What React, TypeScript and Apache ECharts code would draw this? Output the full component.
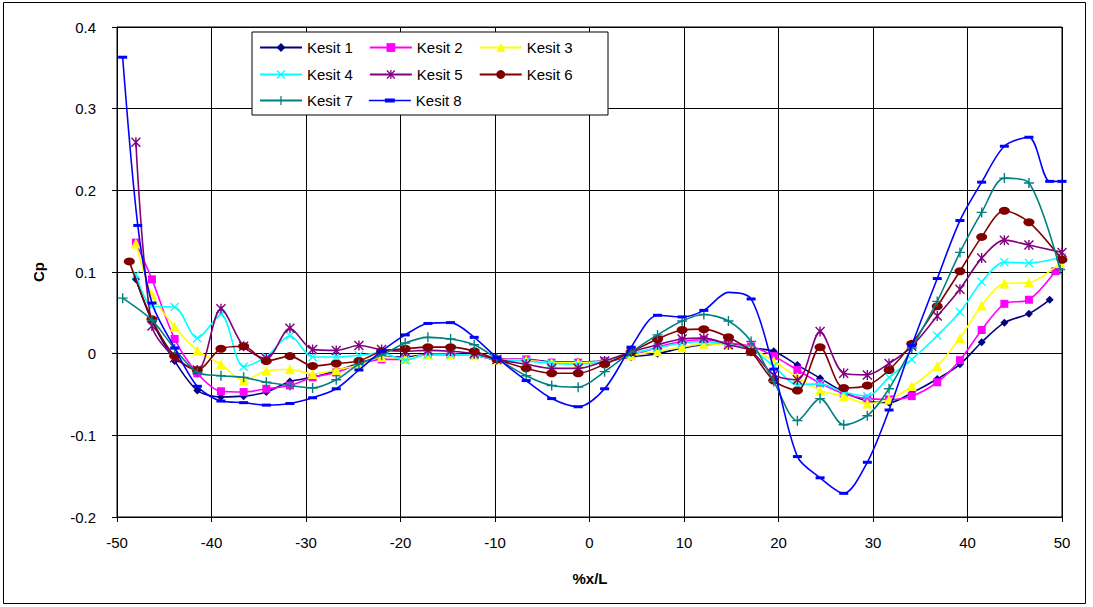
import React, { useEffect, useRef } from 'react';
import * as echarts from 'echarts';

const SERIES_NAMES = ['Kesit 1', 'Kesit 2', 'Kesit 3', 'Kesit 4', 'Kesit 5', 'Kesit 6', 'Kesit 7', 'Kesit 8'];
const SERIES_COLORS = ['#000080', '#FF00FF', '#FFFF00', '#00FFFF', '#800080', '#800000', '#008080', '#0000FF'];

const X_TICKS_MIN = -50;
const X_TICKS_MAX = 50;
const Y_TICKS_MIN = -0.2;
const Y_TICKS_MAX = 0.4;

const KESIT_1: [number, number][] = [
  [-48.0, 0.091], [-46.3, 0.040], [-43.9, -0.009], [-41.5, -0.045], [-39.0, -0.053], [-36.6, -0.052],
  [-34.2, -0.047], [-31.7, -0.034], [-29.3, -0.029], [-26.8, -0.021], [-24.4, -0.012], [-22.0, -0.004],
  [-19.5, -0.004], [-17.1, -0.001], [-14.7, -0.001], [-12.2, -0.002], [-9.8, -0.007], [-6.7, -0.007],
  [-4.0, -0.010], [-1.2, -0.010], [1.6, -0.009], [4.4, -0.004], [7.2, 0.000], [9.8, 0.007], [12.1, 0.011],
  [14.7, 0.012], [17.1, 0.007], [19.5, 0.003], [22.0, -0.014], [24.4, -0.030], [26.9, -0.047], [29.4, -0.058],
  [31.7, -0.060], [34.1, -0.048], [36.8, -0.031], [39.2, -0.013], [41.5, 0.014], [43.9, 0.038], [46.5, 0.049],
  [48.7, 0.066],
];
const KESIT_2: [number, number][] = [
  [-48.0, 0.136], [-46.3, 0.091], [-43.9, 0.018], [-41.5, -0.024], [-39.0, -0.046], [-36.6, -0.047],
  [-34.2, -0.043], [-31.7, -0.039], [-29.3, -0.029], [-26.8, -0.023], [-24.4, -0.013], [-22.0, -0.007],
  [-19.5, -0.007], [-17.1, -0.001], [-14.7, -0.001], [-12.2, -0.002], [-9.8, -0.007], [-6.7, -0.007],
  [-4.0, -0.011], [-1.2, -0.011], [1.6, -0.009], [4.4, -0.003], [7.2, 0.008], [9.8, 0.015], [12.1, 0.017],
  [14.7, 0.013], [17.1, 0.009], [19.5, -0.003], [22.0, -0.020], [24.4, -0.036], [26.9, -0.049], [29.4, -0.055],
  [31.7, -0.056], [34.1, -0.052], [36.8, -0.035], [39.2, -0.008], [41.5, 0.029], [43.9, 0.061], [46.5, 0.066],
  [49.3, 0.101],
];
const KESIT_3: [number, number][] = [
  [-48.0, 0.135], [-46.3, 0.072], [-43.9, 0.033], [-41.5, 0.004], [-39.0, -0.013], [-36.6, -0.033],
  [-34.2, -0.021], [-31.7, -0.019], [-29.3, -0.025], [-26.8, -0.020], [-24.4, -0.014], [-22.0, -0.004],
  [-19.5, -0.006], [-17.1, -0.001], [-14.7, -0.001], [-12.2, -0.002], [-9.8, -0.007], [-6.7, -0.008],
  [-4.0, -0.011], [-1.2, -0.011], [1.6, -0.009], [4.4, -0.002], [7.2, 0.003], [9.8, 0.008], [12.1, 0.012],
  [14.7, 0.011], [17.1, 0.006], [19.5, -0.009], [22.0, -0.029], [24.4, -0.045], [26.9, -0.052], [29.4, -0.061],
  [31.7, -0.056], [34.1, -0.040], [36.8, -0.015], [39.2, 0.019], [41.5, 0.059], [43.9, 0.086], [46.5, 0.087],
  [49.8, 0.111],
];
const KESIT_4: [number, number][] = [
  [-48.0, 0.097], [-46.3, 0.058], [-43.9, 0.057], [-41.5, 0.019], [-39.0, 0.048], [-36.6, -0.016],
  [-34.2, -0.004], [-31.7, 0.022], [-29.3, -0.004], [-26.8, -0.004], [-24.4, -0.002], [-22.0, 0.001],
  [-19.5, -0.008], [-17.1, -0.001], [-14.7, -0.001], [-12.2, -0.002], [-9.8, -0.007], [-6.7, -0.009],
  [-4.0, -0.012], [-1.2, -0.013], [1.6, -0.009], [4.4, 0.000], [7.2, 0.007], [9.8, 0.013], [12.1, 0.015],
  [14.7, 0.011], [17.1, 0.005], [19.5, -0.015], [22.0, -0.038], [24.4, -0.037], [26.9, -0.047], [29.4, -0.052],
  [31.7, -0.029], [34.1, -0.007], [36.8, 0.022], [39.2, 0.051], [41.5, 0.088], [43.9, 0.112], [46.5, 0.111],
  [50.0, 0.118],
];
const KESIT_5: [number, number][] = [
  [-48.0, 0.259], [-46.3, 0.034], [-43.9, -0.005], [-41.5, -0.020], [-39.0, 0.055], [-36.6, 0.009],
  [-34.2, -0.006], [-31.7, 0.031], [-29.3, 0.005], [-26.8, 0.004], [-24.4, 0.010], [-22.0, 0.005],
  [-19.5, 0.003], [-17.1, 0.004], [-14.7, 0.003], [-12.2, 0.000], [-9.8, -0.007], [-6.7, -0.013],
  [-4.0, -0.018], [-1.2, -0.018], [1.6, -0.009], [4.4, 0.002], [7.2, 0.011], [9.8, 0.018], [12.1, 0.019],
  [14.7, 0.011], [17.1, 0.003], [19.5, -0.026], [22.0, -0.032], [24.4, 0.027], [26.9, -0.024], [29.4, -0.026],
  [31.7, -0.012], [34.1, 0.009], [36.8, 0.046], [39.2, 0.079], [41.5, 0.117], [43.9, 0.139], [46.5, 0.133],
  [50.0, 0.124],
];
const KESIT_6: [number, number][] = [
  [-48.7, 0.113], [-46.3, 0.042], [-43.9, -0.003], [-41.5, -0.020], [-39.0, 0.006], [-36.6, 0.009],
  [-34.2, -0.009], [-31.7, -0.003], [-29.3, -0.015], [-26.8, -0.012], [-24.4, -0.009], [-22.0, 0.003],
  [-19.5, 0.006], [-17.1, 0.008], [-14.7, 0.008], [-12.2, 0.003], [-9.8, -0.007], [-6.7, -0.018],
  [-4.0, -0.024], [-1.2, -0.024], [1.6, -0.013], [4.4, 0.002], [7.2, 0.018], [9.8, 0.029], [12.1, 0.030],
  [14.7, 0.020], [17.1, 0.002], [19.5, -0.033], [22.0, -0.045], [24.4, 0.008], [26.9, -0.042], [29.4, -0.039],
  [31.7, -0.020], [34.1, 0.012], [36.8, 0.058], [39.2, 0.101], [41.5, 0.143], [43.9, 0.175], [46.5, 0.161],
  [50.0, 0.115],
];
const KESIT_7: [number, number][] = [
  [-49.4, 0.068], [-46.3, 0.041], [-43.9, 0.006], [-41.5, -0.023], [-39.0, -0.027], [-36.6, -0.029],
  [-34.2, -0.035], [-31.7, -0.039], [-29.3, -0.042], [-26.8, -0.032], [-24.4, -0.013], [-22.0, -0.002],
  [-19.5, 0.013], [-17.1, 0.020], [-14.7, 0.018], [-12.2, 0.011], [-9.8, -0.006], [-6.7, -0.027],
  [-4.0, -0.039], [-1.2, -0.041], [1.6, -0.022], [4.4, 0.002], [7.2, 0.023], [9.8, 0.040], [12.1, 0.048],
  [14.7, 0.040], [17.1, 0.015], [19.5, -0.034], [22.0, -0.082], [24.4, -0.055], [26.9, -0.087], [29.4, -0.076],
  [31.7, -0.043], [34.1, 0.007], [36.8, 0.064], [39.2, 0.124], [41.5, 0.173], [43.9, 0.215], [46.5, 0.209],
  [49.8, 0.103],
];
const KESIT_8: [number, number][] = [
  [-49.4, 0.363], [-47.8, 0.157], [-46.3, 0.062], [-43.9, 0.007], [-41.5, -0.040], [-39.0, -0.058],
  [-36.6, -0.060], [-34.2, -0.063], [-31.7, -0.061], [-29.3, -0.054], [-26.8, -0.043], [-24.4, -0.020],
  [-22.0, 0.003], [-19.5, 0.023], [-17.1, 0.037], [-14.7, 0.038], [-12.2, 0.020], [-9.8, -0.005],
  [-6.7, -0.033], [-4.0, -0.055], [-1.2, -0.065], [1.6, -0.043], [4.4, 0.008], [7.2, 0.047], [9.8, 0.045],
  [12.1, 0.053], [14.7, 0.075], [17.1, 0.067], [19.5, -0.019], [22.0, -0.126], [24.4, -0.152], [26.9, -0.171],
  [29.4, -0.133], [31.7, -0.069], [34.1, 0.010], [36.8, 0.092], [39.2, 0.163], [41.5, 0.210], [43.9, 0.254],
  [46.5, 0.265], [48.7, 0.211], [50.0, 0.211],
];
// positions along Kesit 8 where the original shows no marker
const KESIT_8_UNMARKED = [14.7];

const SERIES_DATA = [KESIT_1, KESIT_2, KESIT_3, KESIT_4, KESIT_5, KESIT_6, KESIT_7, KESIT_8];

const X_PATH = 'path://M0,1 L1,0 L5,4 L9,0 L10,1 L6,5 L10,9 L9,10 L5,6 L1,10 L0,9 L4,5 Z';
const STAR_PATH = 'path://M0,1 L1,0 L5,4 L9,0 L10,1 L6,5 L10,9 L9,10 L5,6 L1,10 L0,9 L4,5 Z M4.3,0 L5.7,0 L5.7,10 L4.3,10 Z';
const PLUS_PATH = 'path://M4.3,0 L5.7,0 L5.7,4.3 L10,4.3 L10,5.7 L5.7,5.7 L5.7,10 L4.3,10 L4.3,5.7 L0,5.7 L0,4.3 L4.3,4.3 Z';
const DASH_LEGEND_PATH = 'path://M0,0 L0.01,0 Z M42,11 L41.99,11 Z M0,4.8 L42,4.8 L42,6.2 L0,6.2 Z M16,3.5 L26,3.5 L26,7.5 L16,7.5 Z';

const SYMBOLS: any[] = ['diamond', 'rect', 'triangle', X_PATH, STAR_PATH, 'circle', PLUS_PATH, 'rect'];
const SYMBOL_SIZES: any[] = [8, 8, 10, 9, 10, [11, 8], 10, [9, 3]];

const FONT = 'Arial, "Liberation Sans", sans-serif';

export default function App() {
  const ref = useRef<HTMLDivElement>(null);

  useEffect(() => {
    if (!ref.current) return;
    const chart = echarts.init(ref.current, null, { renderer: 'svg' });

    const series = SERIES_NAMES.map((name, i) => ({
      name,
      type: 'line',
      data: SERIES_DATA[i].map((p) =>
        i === 7 && KESIT_8_UNMARKED.includes(p[0]) ? { value: p, symbol: 'none' } : p
      ),
      smooth: 0.3,
      symbol: SYMBOLS[i],
      symbolSize: SYMBOL_SIZES[i],
      showSymbol: true,
      clip: true,
      lineStyle: { color: SERIES_COLORS[i], width: 1.6 },
      itemStyle: { color: SERIES_COLORS[i], borderWidth: 0 },
      emphasis: { disabled: true },
      z: 3 + i,
    }));

    const legendRows = [
      SERIES_NAMES.slice(0, 3),
      SERIES_NAMES.slice(3, 6),
      SERIES_NAMES.slice(6, 8),
    ];
    const legendTops = [40, 67, 93];

    const legends = legendRows.map((row, r) => ({
      data: row.map((n) => (n === 'Kesit 8' ? { name: n, icon: DASH_LEGEND_PATH } : { name: n })),
      left: 259,
      top: legendTops[r],
      orient: 'horizontal',
      padding: 0,
      itemWidth: 42,
      itemHeight: 11,
      itemGap: 16,
      selectedMode: false,
      z: 20,
      textStyle: { fontFamily: FONT, fontSize: 15, color: '#000', width: 58 },
    }));

    chart.setOption({
      animation: false,
      backgroundColor: '#fff',
      grid: { left: 117, top: 27, width: 945, height: 490, show: true, borderColor: '#000', borderWidth: 1, backgroundColor: '#fff' },
      xAxis: {
        type: 'value',
        min: X_TICKS_MIN,
        max: X_TICKS_MAX,
        interval: 10,
        axisLine: { show: true, onZero: false, lineStyle: { color: '#000', width: 1 } },
        axisTick: { show: true, inside: false, length: 5, lineStyle: { color: '#000' } },
        splitLine: { show: true, lineStyle: { color: '#000', width: 1 } },
        axisLabel: { fontFamily: FONT, fontSize: 15, color: '#000', margin: 18 },
      },
      yAxis: {
        type: 'value',
        min: Y_TICKS_MIN,
        max: Y_TICKS_MAX,
        interval: 0.1,
        axisLine: { show: true, onZero: false, lineStyle: { color: '#000', width: 1 } },
        axisTick: { show: true, inside: false, length: 5, lineStyle: { color: '#000' } },
        splitLine: { show: true, lineStyle: { color: '#000', width: 1 } },
        axisLabel: {
          fontFamily: FONT,
          fontSize: 15,
          color: '#000',
          margin: 21,
          formatter: (v: number) => (Math.abs(v) < 1e-9 ? '0' : v.toFixed(1)),
        },
      },
      legend: legends,
      graphic: [
        {
          type: 'rect',
          z: 15,
          shape: { x: 252, y: 32, width: 356, height: 83 },
          style: { fill: '#fff', stroke: '#000', lineWidth: 1 },
        },
        {
          type: 'rect',
          z: 0,
          shape: { x: 3.5, y: 2.5, width: 1082, height: 601 },
          style: { fill: 'none', stroke: '#000', lineWidth: 1 },
        },
        {
          type: 'text',
          x: 38,
          y: 272,
          rotation: Math.PI / 2,
          style: { text: 'Cp', fontFamily: FONT, fontSize: 15, fontWeight: 'bold', fill: '#000', align: 'center', verticalAlign: 'middle' },
        },
        {
          type: 'text',
          x: 590,
          y: 578,
          style: { text: '%x/L', fontFamily: FONT, fontSize: 15, fontWeight: 'bold', fill: '#000', align: 'center', verticalAlign: 'middle' },
        },
      ],
      series,
    });

    return () => chart.dispose();
  }, []);

  return (
    <div style={{ position: 'absolute', left: 0, top: 0, width: 1093, height: 607, background: '#fff' }}>
      <div ref={ref} style={{ width: 1093, height: 607 }} />
    </div>
  );
}
